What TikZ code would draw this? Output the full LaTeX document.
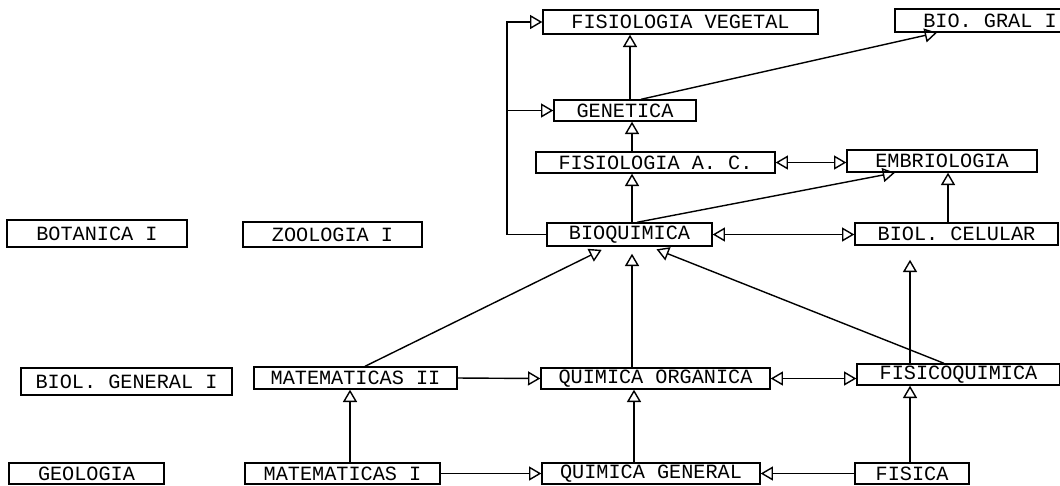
\documentclass[tikz,border=0pt]{standalone}
\usepackage{fontspec}
\setmonofont{Liberation Mono}
\usepackage{tikz}
\usetikzlibrary{arrows.meta,
positioning,
calc}

\begin{document}
\begin{tikzpicture}[
    x=0.02cm, y=-0.02cm,
    line width=0.8pt,
    >={Triangle[open,length=7pt,width=8pt]},
    box/.style={
        draw,
        inner sep=0pt,
        align=center,
        minimum height=0.44cm,
        font=\ttfamily\fontsize{11.5}{13}\selectfont
    }
]
\useasboundingbox (0,0) rectangle (1060,485);

% upper part
\node[box, minimum width=5.5cm, minimum height=0.48cm] (fisveg) at (680.5,22) {FISIOLOGIA VEGETAL};
\node[box, minimum width=3.8cm, minimum height=0.46cm] (biogral) at (990,20.5) {BIO. GRAL I};
\node[box, minimum width=2.84cm, minimum height=0.42cm] (genetica) at (625,110.5) {GENETICA};
\node[box, minimum width=4.78cm, minimum height=0.42cm] (fisac) at (655.5,162.5) {FISIOLOGIA A. C.};
\node[box, minimum width=3.8cm] (embrio) at (942,161) {EMBRIOLOGIA};
\node[box, minimum width=3.3cm, minimum height=0.46cm] (bioq) at (629.5,234.5) {BIOQUIMICA};
\node[box, minimum width=4.06cm] (biocel) at (956.5,234) {BIOL. CELULAR};

% left column
\node[box, minimum width=3.6cm, minimum height=0.54cm] (botanica) at (97,233.5) {BOTANICA I};
\node[box, minimum width=3.58cm, minimum height=0.5cm] (zoologia) at (332.5,234.5) {ZOOLOGIA I};
\node[box, minimum width=4.22cm, minimum height=0.54cm] (biolgen) at (126.5,381.5) {BIOL. GENERAL I};
\node[box, minimum width=3.1cm, minimum height=0.42cm] (geologia) at (86.5,473.5) {GEOLOGIA};

% lower part
\node[box, minimum width=4.06cm] (mat2) at (355.5,378) {MATEMATICAS II};
\node[box, minimum width=4.58cm, minimum height=0.42cm] (qo) at (655.5,378.5) {QUIMICA ORGANICA};
\node[box, minimum width=4.06cm, minimum height=0.42cm] (fq) at (958.5,374.5) {FISICOQUIMICA};
\node[box, minimum width=3.9cm, minimum height=0.42cm] (mat1) at (342.5,473.5) {MATEMATICAS I};
\node[box, minimum width=4.36cm, minimum height=0.42cm] (qg) at (651,473.5) {QUIMICA GENERAL};
\node[box, minimum width=2.28cm, minimum height=0.42cm] (fisica) at (912,473.5) {FISICA};

\coordinate (lft) at (507,0);

% bottom rows
\draw[->] (350,0 |- mat1.north) -- (350,0 |- mat2.south);
\draw[->] (mat1.east) -- (qg.west);
\draw[->] (fisica.west) -- (qg.east);
\draw[->] (910,0 |- fisica.north) -- (910,0 |- fq.south);
\draw[->] (634,0 |- qg.north) -- (634,0 |- qo.south);
\draw[->] (mat2.east) -- (qo.west);
\draw[<->] (qo.east) -- (qo.east -| fq.west);

% into bioquimica and biol. celular
\draw[->, shorten >=4pt] (365,0 |- mat2.north) -- (608,0 |- bioq.south);
\draw[->, shorten >=4pt] (632,0 |- qo.north) -- (632,0 |- bioq.south);
\draw[->, shorten >=4pt] (944,0 |- fq.north) -- (650,0 |- bioq.south);
\draw[->, shorten >=8pt] (910,0 |- fq.north) -- (910,0 |- biocel.south);
\draw[<->] (bioq.east) -- (bioq.east -| biocel.west);

% upper rows
\draw[->] (632,0 |- bioq.north) -- (632,0 |- fisac.south);
\draw[->] (637,0 |- bioq.north) -- (895,0 |- embrio.south);
\draw[->] (948,0 |- biocel.north) -- (948,0 |- embrio.south);
\draw[<->] (fisac.east) -- (fisac.east -| embrio.west);
\draw[->] (632,0 |- fisac.north) -- (632,0 |- genetica.south);
\draw[->] (630,0 |- genetica.north) -- (630,0 |- fisveg.south);
\draw[->] (641,0 |- genetica.north) -- (937,0 |- biogral.south);

% left loop from bioquimica
\draw[->] (bioq.west) -| (lft |- fisveg.west) -- (fisveg.west);
\draw[->] (lft |- genetica.west) -- (genetica.west);

\end{tikzpicture}
\end{document}
